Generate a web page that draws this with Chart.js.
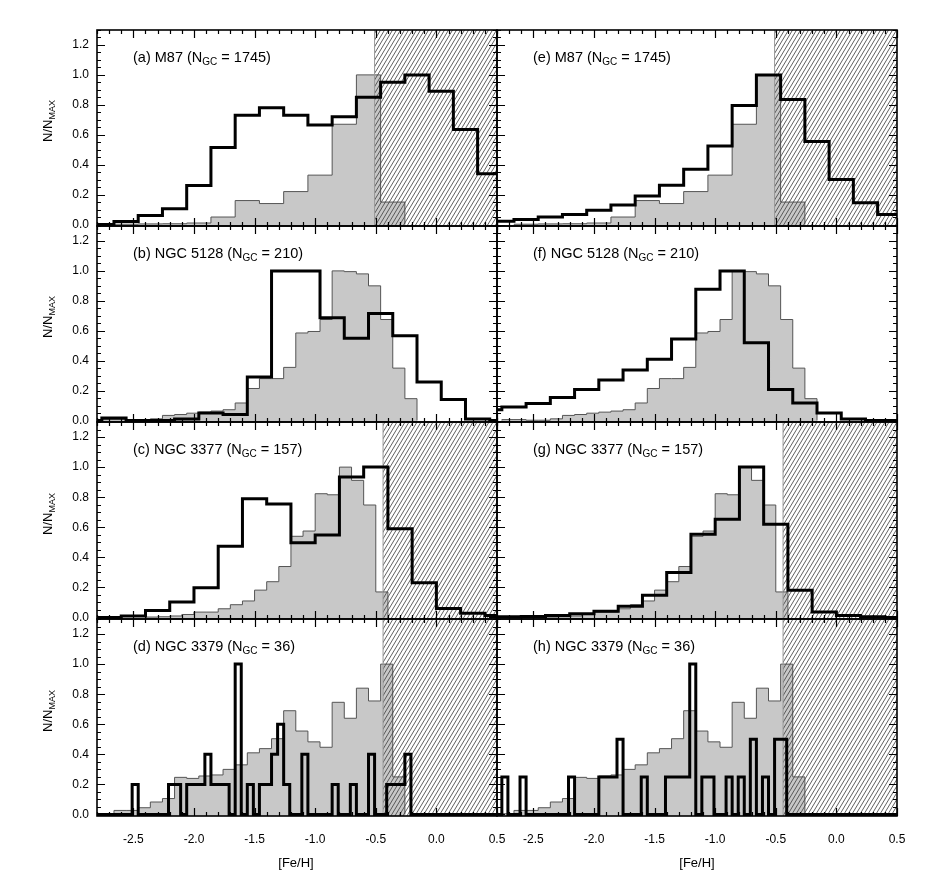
<!DOCTYPE html>
<html>
<head>
<meta charset="utf-8">
<script src="https://cdn.jsdelivr.net/npm/chart.js@4.4.0/dist/chart.umd.min.js"></script>
<style>
  body { margin: 0; background: #fff; }
  #wrap { position: relative; width: 926px; height: 877px; font-family: "Liberation Sans", Arial, Helvetica, sans-serif; color: #000; }
  #wrap canvas { position: absolute; left: 0; top: 0; }
  .lbl { position: absolute; font-size: 14.5px; line-height: 16px; white-space: nowrap; z-index: 5; }
  .lbl sub { font-size: 10px; vertical-align: -3px; line-height: 0; }
  .ytitle { position: absolute; font-size: 13px; line-height: 14px; white-space: nowrap; z-index: 5;
            transform: translate(-50%, -50%) rotate(-90deg); }
  .ytitle sub { font-size: 9px; vertical-align: -3px; line-height: 0; }
  .xtitle { position: absolute; font-size: 13px; transform: translateX(-50%); z-index: 5; }
</style>
</head>
<body>
<div id="wrap"></div>
<script>
// ===== Axes =====
const X_MIN = -2.8, X_MAX = 0.5;
const Y_MIN = -0.01, Y_MAX = 1.3;
const xMajor = [-2.5, -2.0, -1.5, -1.0, -0.5, 0.0, 0.5];
const xTickLabels = ["-2.5", "-2.0", "-1.5", "-1.0", "-0.5", "0.0", "0.5"];
const yMajor = [0.0, 0.2, 0.4, 0.6, 0.8, 1.0, 1.2];
const yTickLabels = ["0.0", "0.2", "0.4", "0.6", "0.8", "1.0", "1.2"];

// ===== Comparison (gray) histograms =====
const m87GrayStart = -2.66, m87GrayWidth = 0.2;
const m87Gray = [0.002, 0.004, 0.005, 0.01, 0.05, 0.16, 0.14, 0.22, 0.33, 0.67, 1.0, 0.15];

const n5128GrayStart = -2.76, n5128GrayWidth = 0.1;
const n5128Gray = [0.006, 0.006, 0.002, 0.002, 0.011, 0.034, 0.04, 0.049, 0.056, 0.063, 0.072, 0.117, 0.214, 0.28,
  0.28, 0.355, 0.585, 0.595, 0.675, 1.0, 0.995, 0.98, 0.9, 0.675, 0.35, 0.146];

const n3377GrayStart = -2.4, n3377GrayWidth = 0.1;
const n3377Gray = [0.003, 0.005, 0.01, 0.02, 0.036, 0.036, 0.058, 0.085, 0.11, 0.182, 0.238, 0.339,
  0.54, 0.575, 0.823, 0.816, 1.0, 0.912, 0.748, 0.17];

const n3379GrayStart = -2.76, n3379GrayWidth = 0.1;
const n3379Gray = [0.005, 0.027, 0.027, 0.045, 0.083, 0.106, 0.247, 0.24, 0.256, 0.263, 0.30, 0.33, 0.41,
  0.438, 0.504, 0.69, 0.555, 0.483, 0.447, 0.746, 0.64, 0.84, 0.755, 1.0, 0.25];

// ===== GC (black) histograms =====
const aBlackStart = -2.86, aBlackWidth = 0.2;
const aBlack = [0.0, 0.02, 0.06, 0.105, 0.26, 0.515, 0.73, 0.78, 0.73, 0.665, 0.72, 0.85, 0.95, 1.0, 0.89, 0.635, 0.34];
const eBlackStart = -2.86, eBlackWidth = 0.2;
const eBlack = [0.022, 0.033, 0.05, 0.067, 0.095, 0.13, 0.19, 0.263, 0.37, 0.525, 0.795, 1.0, 0.835, 0.555, 0.30, 0.145, 0.067];

const bBlackStart = -2.76, bBlackWidth = 0.2;
const bBlack = [0.016, 0, 0, 0.01, 0.05, 0.04, 0.29, 1.0, 1.0, 0.686, 0.55, 0.715, 0.566, 0.258, 0.14, 0.01];
const fBlackStart = -2.96, fBlackWidth = 0.2;
const fBlack = [0.072, 0.09, 0.113, 0.153, 0.207, 0.27, 0.337, 0.41, 0.544, 0.877, 1.0, 0.52, 0.207, 0.117, 0.05, 0.01];

const cBlackStart = -2.8, cBlackWidth = 0.2;
const cBlack = [0.0, 0.01, 0.047, 0.103, 0.198, 0.474, 0.79, 0.755, 0.497, 0.548, 0.935, 1.0, 0.59, 0.231, 0.059, 0.029, 0.013];
const gBlackStart = -2.8, gBlackWidth = 0.2;
const gBlack = [0.005, 0.007, 0.013, 0.025, 0.042, 0.074, 0.148, 0.30, 0.553, 0.654, 1.0, 0.62, 0.182, 0.036, 0.013, 0.005];

const dBlackStart = -2.56, dBlackWidth = 0.05;
const dBlack = [0, 0.2, 0, 0, 0, 0, 0, 0.2, 0.2, 0, 0.2, 0.2, 0.2, 0.4, 0.2, 0.2, 0.2, 0, 1.0, 0, 0.2, 0, 0.2, 0.2,
  0.4, 0.6, 0.2, 0, 0, 0.4, 0, 0, 0, 0, 0.2, 0, 0, 0.2, 0, 0, 0.4, 0, 0, 0.2, 0.2, 0.2, 0.4, 0];
const hBlackStart = -2.76, hBlackWidth = 0.05;
const hBlack = [0.25, 0, 0, 0.25, 0, 0, 0, 0, 0, 0, 0, 0.25, 0, 0, 0, 0, 0.25, 0.25, 0.25, 0.5, 0, 0, 0, 0.25, 0,
  0, 0, 0.25, 0.25, 0.25, 0.25, 1.0, 0, 0.25, 0.25, 0, 0, 0.25, 0, 0.25, 0, 0.5, 0, 0.25, 0, 0.5, 0.5];

// metallicity limit of the hatched zone (null = none)
const hatchM87 = -0.51, hatchOther = -0.44;

// ===== Layout =====
const colLeft = [97, 497];
const rowTop = [30, 226, 422, 619];
const rowBottom = [226, 422, 619, 816];
const PANEL_W = 400;
const Y_AXIS_W = 97, X_AXIS_H = 40;

const panels = [
  { col: 0, row: 0, tag: "(a) M87", n: "1745", gray: [m87GrayStart, m87GrayWidth, m87Gray], black: [aBlackStart, aBlackWidth, aBlack], hatch: hatchM87 },
  { col: 0, row: 1, tag: "(b) NGC 5128", n: "210", gray: [n5128GrayStart, n5128GrayWidth, n5128Gray], black: [bBlackStart, bBlackWidth, bBlack], hatch: null },
  { col: 0, row: 2, tag: "(c) NGC 3377", n: "157", gray: [n3377GrayStart, n3377GrayWidth, n3377Gray], black: [cBlackStart, cBlackWidth, cBlack], hatch: hatchOther },
  { col: 0, row: 3, tag: "(d) NGC 3379", n: "36", gray: [n3379GrayStart, n3379GrayWidth, n3379Gray], black: [dBlackStart, dBlackWidth, dBlack], hatch: hatchOther },
  { col: 1, row: 0, tag: "(e) M87", n: "1745", gray: [m87GrayStart, m87GrayWidth, m87Gray], black: [eBlackStart, eBlackWidth, eBlack], hatch: hatchM87 },
  { col: 1, row: 1, tag: "(f) NGC 5128", n: "210", gray: [n5128GrayStart, n5128GrayWidth, n5128Gray], black: [fBlackStart, fBlackWidth, fBlack], hatch: null },
  { col: 1, row: 2, tag: "(g) NGC 3377", n: "157", gray: [n3377GrayStart, n3377GrayWidth, n3377Gray], black: [gBlackStart, gBlackWidth, gBlack], hatch: hatchOther },
  { col: 1, row: 3, tag: "(h) NGC 3379", n: "36", gray: [n3379GrayStart, n3379GrayWidth, n3379Gray], black: [hBlackStart, hBlackWidth, hBlack], hatch: hatchOther },
];

// step points for a histogram (bin left edges + closing edge)
function histPoints(start, width, values, padZero) {
  const pts = [];
  if (padZero) pts.push({ x: X_MIN - 1, y: 0 });
  else pts.push({ x: start, y: 0 });
  values.forEach((v, i) => pts.push({ x: start + i * width, y: v }));
  pts.push({ x: start + values.length * width, y: 0 });
  if (padZero) pts.push({ x: X_MAX + 1, y: 0 });
  return pts;
}

function drawHatch(chart, from) {
  const { ctx, chartArea: a, scales } = chart;
  const x0 = scales.x.getPixelForValue(from);
  const h = a.bottom - a.top;
  ctx.save();
  ctx.beginPath();
  ctx.rect(x0, a.top, a.right - x0, h);
  ctx.clip();
  ctx.strokeStyle = "#444";
  ctx.lineWidth = 0.85;
  ctx.beginPath();
  const run = h * 0.6;
  for (let sx = x0 - run - 10; sx < a.right + 10; sx += 4) {
    ctx.moveTo(sx, a.bottom);
    ctx.lineTo(sx + run, a.top);
  }
  ctx.stroke();
  ctx.restore();
  ctx.save();
  ctx.strokeStyle = "#999";
  ctx.lineWidth = 1;
  ctx.beginPath();
  ctx.moveTo(x0, a.top);
  ctx.lineTo(x0, a.bottom);
  ctx.stroke();
  ctx.restore();
}

const framePlugin = {
  id: "frame",
  afterDatasetDraw(chart, args, opts) {
    if (args.index === 0 && opts.hatch != null) drawHatch(chart, opts.hatch);
  },
  afterDraw(chart) {
    const { ctx, chartArea: a, scales } = chart;
    ctx.save();
    ctx.strokeStyle = "#000";
    ctx.lineWidth = 1.2;
    ctx.beginPath();
    // x ticks, top and bottom, inside
    for (let i = 0; i <= 33; i++) {
      const v = X_MIN + i * 0.1;
      const major = Math.abs(v * 2 - Math.round(v * 2)) < 1e-6;
      const len = major ? 8 : 4;
      const px = Math.round(scales.x.getPixelForValue(v)) + 0.5;
      ctx.moveTo(px, a.bottom); ctx.lineTo(px, a.bottom - len);
      ctx.moveTo(px, a.top); ctx.lineTo(px, a.top + len);
    }
    // y ticks, left and right, inside
    for (let i = 0; i <= 26; i++) {
      const v = i * 0.05;
      const major = i % 4 === 0;
      const len = major ? 8 : 4;
      const py = Math.round(scales.y.getPixelForValue(v)) + 0.5;
      ctx.moveTo(a.left, py); ctx.lineTo(a.left + len, py);
      ctx.moveTo(a.right, py); ctx.lineTo(a.right - len, py);
    }
    ctx.stroke();
    ctx.lineWidth = 1.6;
    ctx.strokeRect(a.left, a.top, a.right - a.left, a.bottom - a.top);
    ctx.restore();
  }
};

const wrap = document.getElementById("wrap");
const tickFont = { family: "'Liberation Sans', Arial, sans-serif", size: 12 };

panels.forEach((p) => {
  const left = colLeft[p.col], top = rowTop[p.row], bottom = rowBottom[p.row];
  const yW = p.col === 0 ? Y_AXIS_W : 0;
  const xH = p.row === 3 ? X_AXIS_H : 0;
  const canvas = document.createElement("canvas");
  canvas.width = 926; canvas.height = 877;
  wrap.appendChild(canvas);

  new Chart(canvas, {
    type: "line",
    data: {
      datasets: [
        {
          data: histPoints(p.gray[0], p.gray[1], p.gray[2], false),
          stepped: "before", fill: "start", backgroundColor: "#c8c8c8",
          borderColor: "#555", borderWidth: 1, pointRadius: 0, order: 2, clip: 0
        },
        {
          data: histPoints(p.black[0], p.black[1], p.black[2], true),
          stepped: "before", fill: false, borderColor: "#000", borderWidth: 3,
          pointRadius: 0, order: 1, clip: { left: 0, top: 0, right: 0, bottom: 2 }
        }
      ]
    },
    options: {
      responsive: false,
      animation: false,
      events: [],
      layout: { padding: { left: left - yW, top: top, right: 926 - left - PANEL_W, bottom: 877 - bottom - xH } },
      plugins: { legend: { display: false }, tooltip: { enabled: false }, frame: { hatch: p.hatch } },
      scales: {
        x: {
          type: "linear", min: X_MIN, max: X_MAX,
          grid: { display: false, drawTicks: false }, border: { display: false },
          afterBuildTicks: (s) => { s.ticks = xMajor.map((v) => ({ value: v })); },
          afterFit: (s) => { s.height = xH; },
          ticks: {
            display: p.row === 3, padding: 16, color: "#000", font: tickFont,
            autoSkip: false, maxRotation: 0, callback: (v, i) => xTickLabels[i]
          }
        },
        y: {
          type: "linear", min: Y_MIN, max: Y_MAX,
          grid: { display: false, drawTicks: false }, border: { display: false },
          afterBuildTicks: (s) => { s.ticks = yMajor.map((v) => ({ value: v })); },
          afterFit: (s) => { s.width = yW; },
          ticks: {
            display: p.col === 0, padding: 8, color: "#000", font: tickFont,
            autoSkip: false, callback: (v, i) => yTickLabels[i]
          }
        }
      }
    },
    plugins: [framePlugin]
  });

  // panel label
  const lbl = document.createElement("div");
  lbl.className = "lbl";
  lbl.style.left = (left + 36) + "px";
  lbl.style.top = (top + 19) + "px";
  lbl.innerHTML = p.tag + " (N<sub>GC</sub> = " + p.n + ")";
  wrap.appendChild(lbl);

  // y title on left column
  if (p.col === 0) {
    const yt = document.createElement("div");
    yt.className = "ytitle";
    yt.style.left = "48px";
    yt.style.top = ((top + bottom) / 2 - 7) + "px";
    yt.innerHTML = "N/N<sub>MAX</sub>";
    wrap.appendChild(yt);
  }
});

// x titles
[296, 697].forEach((cx) => {
  const xt = document.createElement("div");
  xt.className = "xtitle";
  xt.style.left = cx + "px";
  xt.style.top = "855px";
  xt.textContent = "[Fe/H]";
  wrap.appendChild(xt);
});
</script>
</body>
</html>
